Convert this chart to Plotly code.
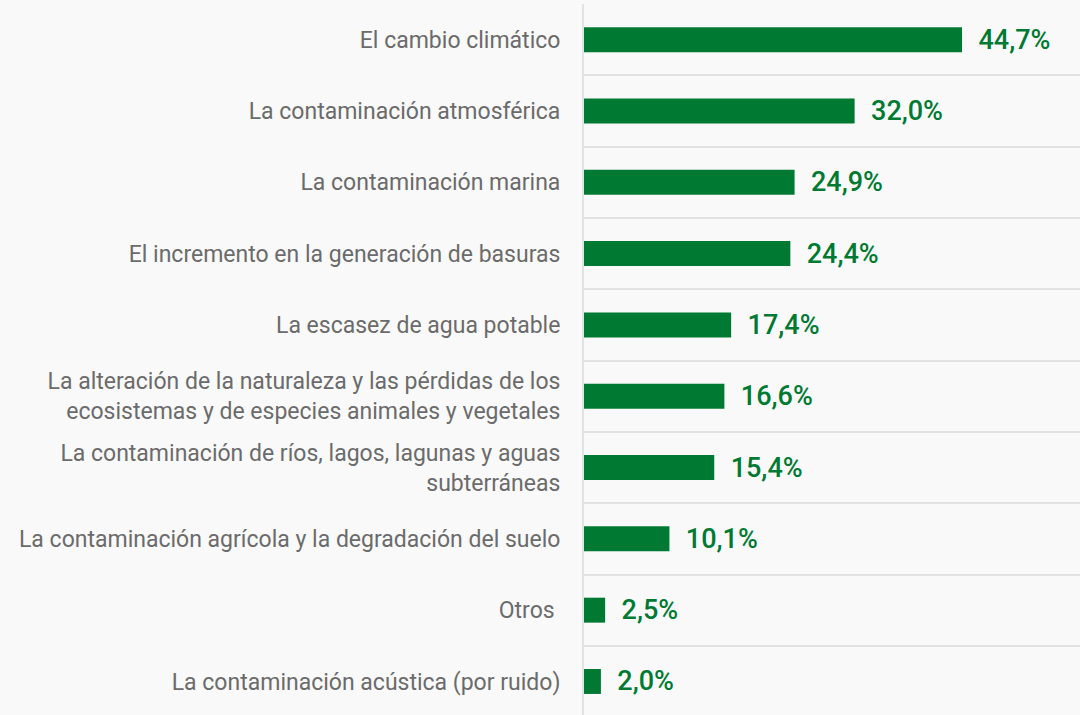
import plotly.graph_objects as go

categories = [
    "El cambio climático",
    "La contaminación atmosférica",
    "La contaminación marina",
    "El incremento en la generación de basuras",
    "La escasez de agua potable",
    "La alteración de la naturaleza y las pérdidas de los<br>ecosistemas y de especies animales y vegetales",
    "La contaminación de ríos, lagos, lagunas y aguas<br>subterráneas",
    "La contaminación agrícola y la degradación del suelo",
    "Otros\u00a0",
    "La contaminación acústica (por ruido)",
]
values = [44.7, 32.0, 24.9, 24.4, 17.4, 16.6, 15.4, 10.1, 2.5, 2.0]

# bottom-to-top order for plotly
cats_plot = categories[::-1]
vals_plot = values[::-1]
labels = ["\u00a0\u00a0" + f"{v:.1f}".replace(".", ",") + "%" for v in vals_plot]

GREEN = "#007a33"

fig = go.Figure(
    go.Bar(
        x=vals_plot,
        y=cats_plot,
        orientation="h",
        marker=dict(color=GREEN, line=dict(width=0)),
        text=labels,
        textposition="outside",
        constraintext="none",
        cliponaxis=False,
        textfont=dict(family="Roboto", size=27, color=GREEN, weight=500),
        hoverinfo="skip",
    )
)

fig.update_layout(
    width=1080,
    height=715,
    margin=dict(l=584, r=0, t=4, b=0),
    paper_bgcolor="#f9f9f9",
    plot_bgcolor="#f9f9f9",
    bargap=0.65,
    showlegend=False,
    font=dict(family="Roboto", size=23, color="#6b6b6b"),
)
fig.update_xaxes(
    range=[0, 58.65],
    showgrid=False,
    zeroline=False,
    showticklabels=False,
    showline=False,
)
fig.update_yaxes(
    type="category",
    range=[-0.47, 9.5],
    tickson="boundaries",
    showgrid=True,
    gridcolor="#e2e2e2",
    gridwidth=2,
    showline=True,
    linecolor="#e2e2e2",
    linewidth=2,
    ticks="",
    ticklabelstandoff=17,
    tickfont=dict(family="Roboto", size=23, color="#6b6b6b"),
)

fig.write_html(
    "out.html",
    config={"displayModeBar": False},
    post_script="document.body.style.margin='0';document.body.style.background='#f9f9f9';",
)
